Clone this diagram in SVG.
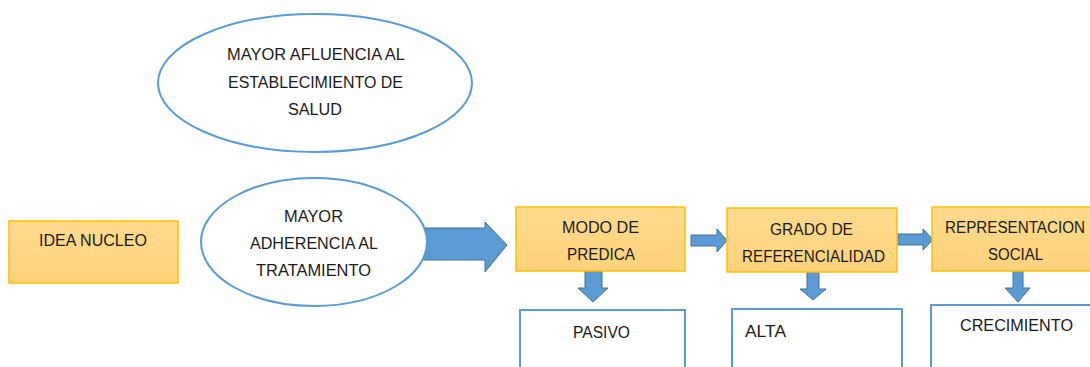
<svg xmlns="http://www.w3.org/2000/svg" width="1090" height="367" viewBox="0 0 1090 367">
<style>
text{font-family:"Liberation Sans","DejaVu Sans",sans-serif;font-size:16px;fill:#1a1a1a;text-anchor:middle}
.oval{fill:#fff;stroke:#5B9BD5;stroke-width:2}
.key{fill:url(#gold);stroke:#FFC000;stroke-width:1.5}
.val{fill:#fff;stroke:#5B9BD5;stroke-width:2}
.arr{fill:#5B9BD5;stroke:#41719C;stroke-width:1}
</style>
<defs>
<linearGradient id="gold" x1="0" y1="0" x2="0" y2="1">
<stop offset="0" stop-color="#FFDB8E"/>
<stop offset="1" stop-color="#FFD27A"/>
</linearGradient>
</defs>
<g id="connectors">
<path class="arr" d="M420,228 H485 V222 L507,245 L485,272 V260 H420 Z"/>
<path class="arr" d="M691,235 H717 V229 L727,240.5 L717,252 V246 H691 Z"/>
<path class="arr" d="M898,234 H923 V229 L933,239.5 L923,250 V245 H898 Z"/>
<path class="arr" d="M585,271 H602 V288 H608 L593,302 L578,288 H585 Z"/>
<path class="arr" d="M807,272 H819 V289 H826 L813,300 L800,289 H807 Z"/>
<path class="arr" d="M1013,271 H1023 V288 H1030 L1018,302 L1005,288 H1013 Z"/>
</g>
<g id="afluencia">
<ellipse class="oval" cx="315" cy="83" rx="157" ry="69"/>
<text x="316" y="60" textLength="178" lengthAdjust="spacingAndGlyphs">MAYOR AFLUENCIA AL</text>
<text x="315.5" y="88" textLength="175" lengthAdjust="spacingAndGlyphs">ESTABLECIMIENTO DE</text>
<text x="315" y="115" textLength="54" lengthAdjust="spacingAndGlyphs">SALUD</text>
</g>
<g id="idea">
<rect class="key" x="9" y="221" width="169" height="62"/>
<text x="93" y="246" textLength="108" lengthAdjust="spacingAndGlyphs">IDEA NUCLEO</text>
</g>
<g id="adherencia">
<ellipse class="oval" cx="314" cy="242" rx="113" ry="64"/>
<text x="313.5" y="222" textLength="59" lengthAdjust="spacingAndGlyphs">MAYOR</text>
<text x="314" y="249" textLength="128" lengthAdjust="spacingAndGlyphs">ADHERENCIA AL</text>
<text x="313.5" y="276" textLength="115" lengthAdjust="spacingAndGlyphs">TRATAMIENTO</text>
</g>
<g id="modo">
<rect class="key" x="516" y="207" width="169" height="64"/>
<text x="600.5" y="233" textLength="77" lengthAdjust="spacingAndGlyphs">MODO DE</text>
<text x="601" y="260" textLength="68" lengthAdjust="spacingAndGlyphs">PREDICA</text>
</g>
<g id="pasivo">
<rect class="val" x="520" y="310" width="165" height="70"/>
<text x="601.5" y="338" textLength="57" lengthAdjust="spacingAndGlyphs">PASIVO</text>
</g>
<g id="grado">
<rect class="key" x="727" y="208" width="170" height="64"/>
<text x="811.5" y="235" textLength="83" lengthAdjust="spacingAndGlyphs">GRADO DE</text>
<text x="813.5" y="262" textLength="143" lengthAdjust="spacingAndGlyphs">REFERENCIALIDAD</text>
</g>
<g id="alta">
<rect class="val" x="732" y="309" width="170" height="70"/>
<text x="765.5" y="337" textLength="41" lengthAdjust="spacingAndGlyphs">ALTA</text>
</g>
<g id="representacion">
<rect class="key" x="932" y="207" width="165" height="64"/>
<text x="1015" y="233" textLength="140" lengthAdjust="spacingAndGlyphs">REPRESENTACION</text>
<text x="1015.5" y="260" textLength="55" lengthAdjust="spacingAndGlyphs">SOCIAL</text>
</g>
<g id="crecimiento">
<rect class="val" x="931" y="305" width="165" height="75"/>
<text x="1016.5" y="331" textLength="113" lengthAdjust="spacingAndGlyphs">CRECIMIENTO</text>
</g>
</svg>
